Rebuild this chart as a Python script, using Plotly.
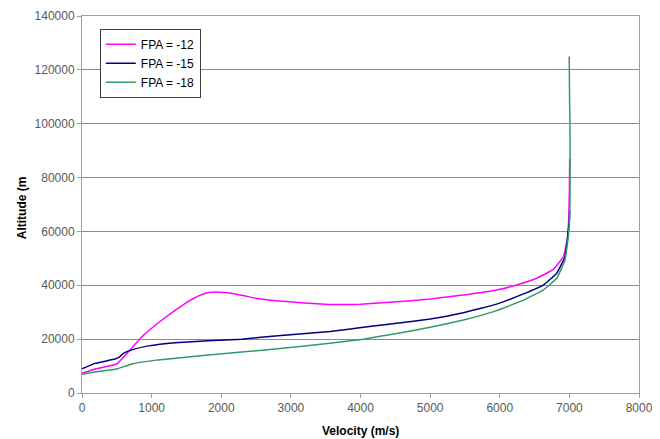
import plotly.graph_objects as go

# FPA = -12
v12 = [0, 200, 480, 520, 667, 860, 1148, 1484, 1600, 1724, 1820, 1916, 2050, 2200, 2350, 2490, 2775, 3100, 3560, 4000, 4520, 5000, 5477, 5956, 6243, 6530, 6770, 6913, 6970, 6990, 7000, 7005]
h12 = [7300, 9000, 10600, 11200, 15300, 20900, 27100, 33300, 35100, 36600, 37300, 37500, 37300, 36800, 36000, 35200, 34300, 33600, 32900, 33000, 33900, 34900, 36400, 38250, 40100, 42600, 45900, 50600, 56800, 64300, 75000, 87000]

# FPA = -15
v15 = [0, 187, 474, 530, 600, 714, 953, 1336, 1814, 2294, 2772, 3562, 4040, 4520, 5000, 5477, 5956, 6340, 6627, 6818, 6937, 6980, 7000, 7005]
h15 = [9000, 11000, 12600, 13200, 14800, 16000, 17500, 18700, 19400, 20000, 21200, 22800, 24400, 25900, 27500, 29800, 33000, 36800, 40100, 44500, 50600, 59300, 64000, 68000]

# FPA = -18
v18 = [0, 200, 474, 520, 714, 1096, 1814, 2772, 3562, 4040, 4520, 5000, 5477, 5956, 6340, 6627, 6818, 6937, 6990, 7008, 7010, 7008, 7003, 6998]
h18 = [7000, 7900, 8800, 9100, 10800, 12300, 14100, 16300, 18500, 20000, 22100, 24400, 27100, 30600, 34500, 38300, 42600, 49400, 59300, 70000, 88000, 100000, 109000, 125000]

names = ["FPA = -12", "FPA = -15", "FPA = -18"]
colors = ["#FF00FF", "#000080", "#339966"]

x_ticks = [0, 1000, 2000, 3000, 4000, 5000, 6000, 7000, 8000]
y_ticks = [0, 20000, 40000, 60000, 80000, 100000, 120000, 140000]

x_title = "Velocity (m/s)"
y_title = "Altitude (m"

fig = go.Figure()
for v, h, n, c in zip([v12, v15, v18], [h12, h15, h18], names, colors):
    fig.add_trace(go.Scatter(x=v, y=h, mode="lines", name=n,
                             line=dict(color=c, width=1.5, shape="spline", smoothing=0.3)))

axis_font = dict(family="Liberation Sans, Arial, sans-serif", size=12, color="#595959")
fig.update_layout(
    width=652, height=431,
    margin=dict(l=74, r=21, t=8, b=46),
    paper_bgcolor="white", plot_bgcolor="white",
    font=dict(family="Liberation Sans, Arial, sans-serif", size=12, color="black"),
    showlegend=True,
    legend=dict(x=0.032, y=0.966, xanchor="left", yanchor="top",
                bgcolor="white", bordercolor="#404040", borderwidth=1,
                font=dict(size=12, color="black"), itemwidth=30,
                tracegroupgap=0),
    xaxis=dict(range=[0, 8000], tickvals=x_ticks, ticktext=[str(t) for t in x_ticks],
               showgrid=False, zeroline=False, showline=True, linecolor="#a0a0a0",
               linewidth=1, mirror=True, ticks="outside", ticklen=4, tickcolor="#a0a0a0",
               tickfont=axis_font, automargin=False),
    yaxis=dict(range=[0, 140000], tickvals=y_ticks, ticktext=[str(t) for t in y_ticks],
               showgrid=True, gridcolor="#8c8c8c", gridwidth=1,
               zeroline=False, showline=True, linecolor="#a0a0a0",
               linewidth=1, mirror=True, ticks="outside", ticklen=4, tickcolor="#a0a0a0",
               tickfont=axis_font, automargin=False),
    annotations=[
        dict(text="<b>" + x_title + "</b>", xref="paper", yref="paper", x=0.5, y=0,
             yshift=-38, showarrow=False, xanchor="center", yanchor="middle",
             font=dict(size=12, color="black")),
        dict(text="<b>" + y_title + "</b>", xref="paper", yref="paper", x=0, y=0.49,
             xshift=-60, showarrow=False, xanchor="center", yanchor="middle", textangle=-90,
             font=dict(size=12, color="black")),
    ],
)

fig.write_html("out.html")
